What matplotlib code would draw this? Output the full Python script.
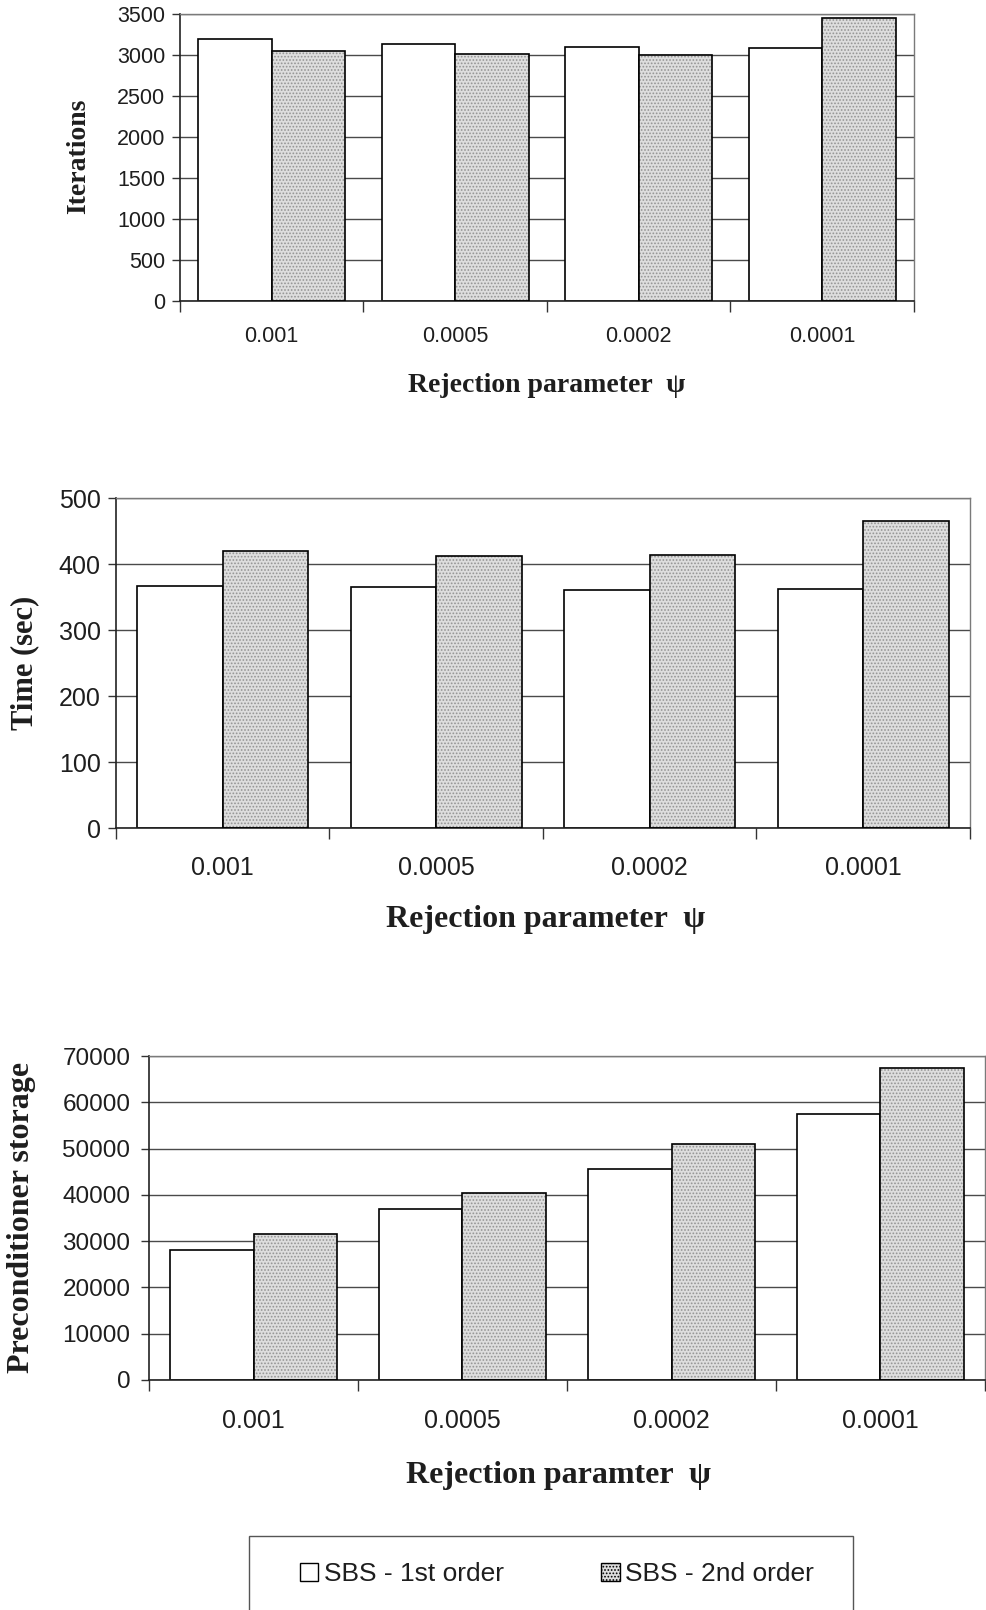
import matplotlib
matplotlib.use('Agg')
import matplotlib.pyplot as plt
from matplotlib.patches import Patch, Rectangle
import numpy as np

# rejection parameter values on the x axis
categories = ['0.001', '0.0005', '0.0002', '0.0001']

# iterations
iter_first = [3190, 3140, 3100, 3090]
iter_second = [3050, 3010, 3000, 3450]

# solve time (sec)
time_first = [366, 365, 360, 362]
time_second = [420, 412, 413, 465]

# preconditioner storage
storage_first = [28000, 37000, 45500, 57500]
storage_second = [31500, 40500, 51000, 67500]

SANS = 'Liberation Sans'
SERIF = 'Liberation Serif'
INK = '#1e1e1e'
STIPPLE_FACE = '#dedede'
STIPPLE_DOT = '#959595'

plt.rcParams['hatch.linewidth'] = 0.8

W, H = 987, 1610
fig = plt.figure(figsize=(W / 100, H / 100), dpi=100)


def px_axes(left, top, right, bottom):
    return fig.add_axes([left / W, 1 - bottom / H, (right - left) / W, (bottom - top) / H])


def panel(ax, first, second, ymax, ystep, ylabel, xlabel, tsize, xtsize,
          ysize, xsize, ylab_pos, xlab_pos, xpad, ypad):
    x = np.arange(len(categories))
    w = 0.4
    # 1st order: plain white bars
    ax.bar(x - w / 2, first, w, facecolor='white', edgecolor='black', linewidth=1.2, zorder=2)
    # 2nd order: stippled fill, then a black outline on top
    ax.bar(x + w / 2, second, w, facecolor=STIPPLE_FACE, edgecolor=STIPPLE_DOT,
           hatch='.....', linewidth=0, zorder=2)
    ax.bar(x + w / 2, second, w, fill=False, edgecolor='black', linewidth=1.2, zorder=3)

    ax.set_xlim(-0.5, len(categories) - 0.5)
    ax.set_ylim(0, ymax)
    ax.set_yticks(np.arange(0, ymax + 1, ystep))
    ax.yaxis.grid(True, color='#4a4a4a', linewidth=1.0)
    ax.set_axisbelow(True)

    ax.set_xticks(x)
    ax.set_xticklabels(categories, fontsize=xtsize, family=SANS, color=INK)
    ax.set_xticks(np.arange(-0.5, len(categories)), minor=True)
    ax.tick_params(axis='x', which='major', length=0, pad=xpad)
    ax.tick_params(axis='x', which='minor', length=8, width=1.0, direction='out', color='#333')
    ax.tick_params(axis='y', length=6, width=1.0, direction='out', color='#333', pad=ypad)
    for lab in ax.get_yticklabels():
        lab.set_fontsize(tsize)
        lab.set_family(SANS)
        lab.set_color(INK)

    for side in ('top', 'right'):
        ax.spines[side].set_color('#7a7a7a')
        ax.spines[side].set_linewidth(1.0)
    for side in ('left', 'bottom'):
        ax.spines[side].set_color('#222')
        ax.spines[side].set_linewidth(1.2)

    ax.set_ylabel(ylabel, fontsize=ysize, family=SERIF, fontweight='bold', color=INK,
                  va='center', ha='center')
    ax.yaxis.set_label_coords(*ylab_pos)
    ax.set_xlabel(xlabel, fontsize=xsize, family=SERIF, fontweight='bold', color=INK,
                  va='center', ha='center')
    ax.xaxis.set_label_coords(*xlab_pos)


ax1 = px_axes(180, 14, 914, 301)
panel(ax1, iter_first, iter_second, 3500, 500, 'Iterations',
      'Rejection parameter  ψ', 15.5, 15.5, 20, 20,
      (-0.138, 0.505), (0.499, -0.296), 18, 4.5)

ax2 = px_axes(116, 498, 970, 828)
panel(ax2, time_first, time_second, 500, 100, 'Time (sec)',
      'Rejection parameter  ψ', 18, 18, 22, 23,
      (-0.107, 0.5), (0.503, -0.276), 20, 5)

ax3 = px_axes(149, 1056, 985, 1380)
panel(ax3, storage_first, storage_second, 70000, 10000, 'Preconditioner storage',
      'Rejection paramter  ψ', 17.5, 18, 23, 23,
      (-0.153, 0.503), (0.49, -0.296), 21, 7.5)

# shared legend in an open-bottomed box at the foot of the page
fig.patches.append(Rectangle((249 / W, -0.01), (853 - 249) / W, (1610 - 1536) / H + 0.01,
                             transform=fig.transFigure, fill=False,
                             edgecolor='#555', linewidth=1.0, clip_on=False))
handles = [Patch(facecolor='white', edgecolor='black', linewidth=1.0),
           Patch(facecolor=STIPPLE_FACE, edgecolor='black', linewidth=1.0, hatch='.....')]
leg = fig.legend(handles, ['SBS - 1st order', 'SBS - 2nd order'], ncol=2,
                 loc='center', bbox_to_anchor=(557 / W, 1 - 1574 / H),
                 frameon=False, handlelength=0.7, handleheight=0.7,
                 handletextpad=0.2, columnspacing=3.7,
                 prop={'family': SANS, 'size': 19})
for t in leg.get_texts():
    t.set_color(INK)

fig.savefig('out.png', dpi=100)
